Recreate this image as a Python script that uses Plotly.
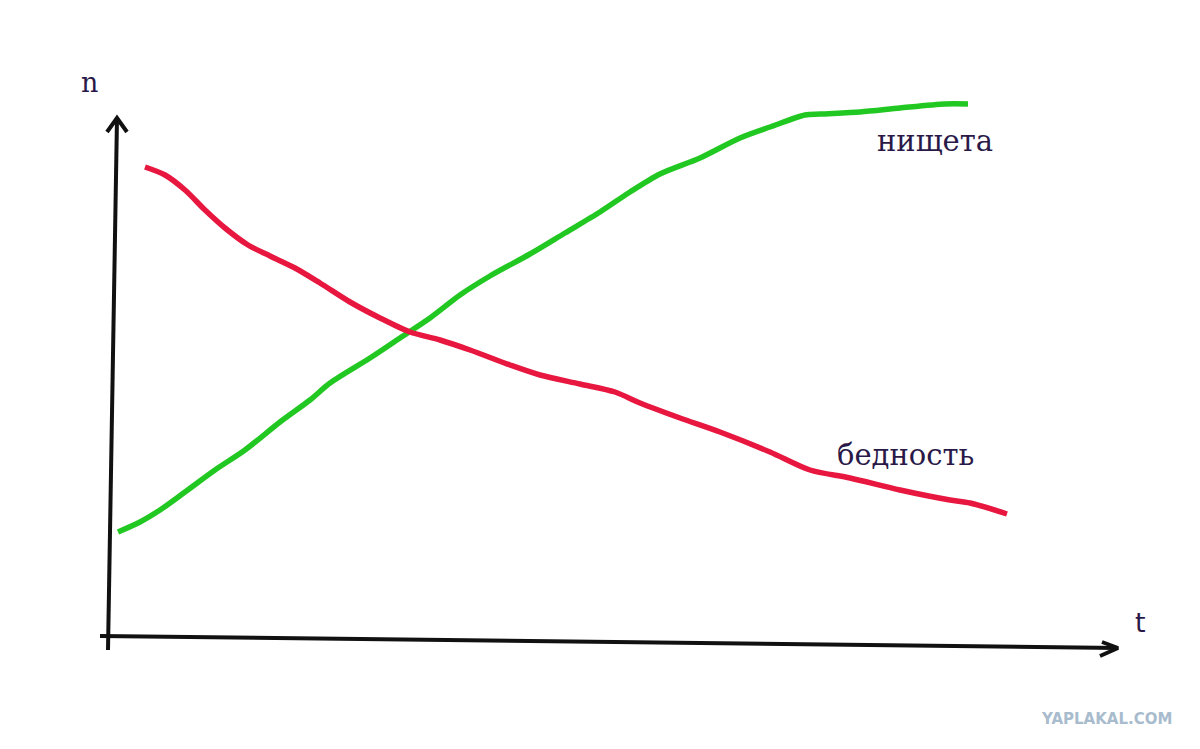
import plotly.graph_objects as go

# Chart units: t grows to the right, n grows upward; origin at the axes' crossing.
bednost_t = [35, 55, 75, 95, 115, 138, 160, 185, 210, 240, 270, 300, 330, 360, 400, 430,
             470, 505, 530, 570, 610, 660, 700, 740, 790, 840, 860, 897]
bednost_n = [473, 465, 450, 430, 412, 395, 384, 372, 357, 338, 322, 308, 300, 290, 275, 265,
             256, 248, 237, 222, 208, 188, 170, 162, 150, 140, 137, 126]

nishcheta_t = [8, 30, 50, 75, 105, 135, 170, 200, 220, 260, 290, 320, 350, 380, 420, 455,
               490, 520, 550, 590, 630, 660, 695, 710, 750, 790, 835, 858]
nishcheta_n = [108, 118, 130, 148, 170, 190, 218, 240, 257, 282, 302, 322, 345, 364, 386, 407,
               428, 448, 466, 482, 502, 513, 525, 526, 528, 532, 536, 536]

y_axis_t = [-2, 7]
y_axis_n = [-10, 522]
x_axis_t = [-10, 1008]
x_axis_n = [4, -8]

labels = ["n", "нищета", "бедность", "t"]
label_t = [-21, 825, 795, 1030]
label_n = [558, 499, 185, 18]

fig = go.Figure()

# axes
fig.add_trace(go.Scatter(x=y_axis_t, y=y_axis_n, mode="lines",
                         line=dict(color="#111111", width=4), hoverinfo="skip"))
fig.add_trace(go.Scatter(x=x_axis_t, y=x_axis_n, mode="lines",
                         line=dict(color="#111111", width=4), hoverinfo="skip"))
# arrowheads
fig.add_trace(go.Scatter(x=[y_axis_t[1] - 10, y_axis_t[1], y_axis_t[1] + 10],
                         y=[y_axis_n[1] - 14, y_axis_n[1], y_axis_n[1] - 14], mode="lines",
                         line=dict(color="#111111", width=4), hoverinfo="skip"))
fig.add_trace(go.Scatter(x=[x_axis_t[1] - 16, x_axis_t[1], x_axis_t[1] - 18],
                         y=[x_axis_n[1] + 6, x_axis_n[1], x_axis_n[1] - 8], mode="lines",
                         line=dict(color="#111111", width=4), hoverinfo="skip"))

fig.add_trace(go.Scatter(x=nishcheta_t, y=nishcheta_n, mode="lines", name="нищета",
                         line=dict(color="#22c822", width=5.5, shape="spline", smoothing=0.8)))
fig.add_trace(go.Scatter(x=bednost_t, y=bednost_n, mode="lines", name="бедность",
                         line=dict(color="#e8173f", width=5.5, shape="spline", smoothing=0.8)))

fonts = ["DejaVu Serif", "DejaVu Serif", "DejaVu Serif", "DejaVu Sans"]
for txt, tx, ny, fn in zip(labels, label_t, label_n, fonts):
    fig.add_annotation(x=tx, y=ny, text=txt, showarrow=False,
                       font=dict(family=fn, size=29 if txt not in ("n", "t") else 27,
                                 color="#2a1948"))

fig.add_annotation(x=0.978, y=0.025, xref="paper", yref="paper", xanchor="right",
                   text="<b>YAPLAKAL.COM</b>", showarrow=False,
                   font=dict(family="DejaVu Sans", size=15, color="#a8bccd"))

fig.update_layout(
    width=1200, height=749, margin=dict(l=0, r=0, t=0, b=0),
    paper_bgcolor="white", plot_bgcolor="white", showlegend=False,
    xaxis=dict(range=[-110, 1090], visible=False, fixedrange=True),
    yaxis=dict(range=[-109, 640], visible=False, fixedrange=True),
)

fig.write_html("out.html", config={"displayModeBar": False},
               post_script="document.body.style.margin='0';")
